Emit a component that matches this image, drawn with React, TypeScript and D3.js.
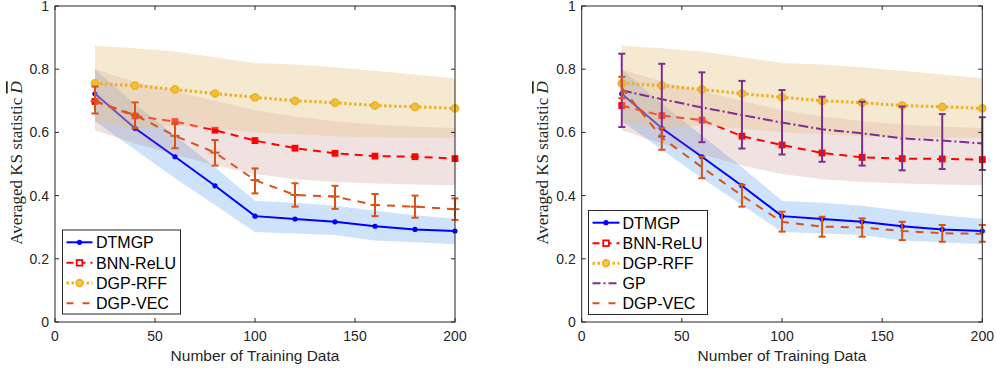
import React from "react";
import * as d3 from "d3";

const xs = [20, 40, 60, 80, 100, 120, 140, 160, 180, 200];
const xTicks = [0, 50, 100, 150, 200];
const yTicks = [0, 0.2, 0.4, 0.6, 0.8, 1];
const xLabel = "Number of Training Data";
const yLabelText = "Averaged KS statistic ";

// shared
const dtmgp = [0.722, 0.613, 0.523, 0.431, 0.335, 0.326, 0.317, 0.303, 0.293, 0.288];
const dtmgpUpper = [0.80, 0.69, 0.59, 0.49, 0.384, 0.377, 0.368, 0.352, 0.338, 0.327];
const dtmgpLower = [0.635, 0.545, 0.455, 0.37, 0.285, 0.28, 0.275, 0.258, 0.252, 0.246];
const bnnUpper = [0.80, 0.76, 0.73, 0.70, 0.67, 0.65, 0.635, 0.625, 0.618, 0.614];
const bnnLower = [0.607, 0.565, 0.53, 0.495, 0.468, 0.452, 0.443, 0.438, 0.435, 0.433];
const rff = [0.755, 0.748, 0.736, 0.723, 0.711, 0.700, 0.694, 0.685, 0.681, 0.676];
const rffUpper = [0.874, 0.866, 0.856, 0.838, 0.82, 0.815, 0.806, 0.795, 0.783, 0.771];
const rffLower = [0.633, 0.612, 0.622, 0.612, 0.60, 0.594, 0.588, 0.585, 0.584, 0.583];

// left panel
const bnnLeft = [0.698, 0.652, 0.634, 0.607, 0.574, 0.550, 0.534, 0.525, 0.523, 0.517];
const vecLeft = [0.699, 0.655, 0.589, 0.536, 0.449, 0.402, 0.397, 0.370, 0.365, 0.357];
const vecLeftUpper = [0.745, 0.695, 0.629, 0.576, 0.486, 0.439, 0.431, 0.405, 0.400, 0.391];
const vecLeftLower = [0.660, 0.613, 0.550, 0.495, 0.407, 0.365, 0.358, 0.335, 0.330, 0.323];

// right panel
const bnnRight = [0.685, 0.653, 0.639, 0.588, 0.560, 0.535, 0.521, 0.517, 0.516, 0.514];
const gp = [0.733, 0.705, 0.679, 0.655, 0.631, 0.610, 0.597, 0.581, 0.574, 0.565];
const gpUpper = [0.849, 0.817, 0.790, 0.763, 0.734, 0.713, 0.697, 0.682, 0.658, 0.648];
const gpLower = [0.617, 0.587, 0.569, 0.549, 0.530, 0.507, 0.495, 0.480, 0.484, 0.481];
const vecRight = [0.742, 0.583, 0.490, 0.400, 0.317, 0.302, 0.299, 0.288, 0.281, 0.279];
const vecRightUpper = [0.776, 0.613, 0.523, 0.434, 0.349, 0.333, 0.328, 0.317, 0.307, 0.307];
const vecRightLower = [0.708, 0.545, 0.455, 0.365, 0.286, 0.270, 0.270, 0.259, 0.254, 0.254];

const C_BLUE = "#0000ff";
const C_RED = "#ff0000";
const C_YEL = "#EDB120";
const C_ORG = "#D95319";
const C_PUR = "#7E2F8E";

const SANS = "'Liberation Sans', Arial, sans-serif";
const SERIF = "'Liberation Serif', 'Times New Roman', serif";

type PanelProps = {
  left: number;
  right: number;
  labelX: number;
  bnn: number[];
  vec: number[];
  vecUp: number[];
  vecLo: number[];
  vecPlus: boolean;
  showGP: boolean;
  legend: { x0: number; x1: number; y0: number; y1: number; rows: number[]; lineX0: number; lineX1: number; textX: number; items: string[] };
};

function Panel(p: PanelProps) {
  const top = 6;
  const bottom = 322;
  const x = d3.scaleLinear().domain([0, 200]).range([p.left, p.right]);
  const y = d3.scaleLinear().domain([0, 1]).range([bottom, top]);
  const line = (vals: number[]) =>
    d3.line<number>().x((_, i) => x(xs[i])).y((v) => y(v))(vals) as string;
  const band = (up: number[], lo: number[]) =>
    d3
      .area<number>()
      .x((_, i) => x(xs[i]))
      .y0((_, i) => y(lo[i]))
      .y1((_, i) => y(up[i]))(xs) as string;
  const tick = 4;
  const errBars = (mid: number[], up: number[], lo: number[], color: string, cap: number, plus: boolean) =>
    mid.map((v, i) => (
      <g key={i} stroke={color} strokeWidth={2} fill="none">
        <line x1={x(xs[i])} x2={x(xs[i])} y1={y(up[i])} y2={y(lo[i])} />
        <line x1={x(xs[i]) - cap} x2={x(xs[i]) + cap} y1={y(up[i])} y2={y(up[i])} />
        <line x1={x(xs[i]) - cap} x2={x(xs[i]) + cap} y1={y(lo[i])} y2={y(lo[i])} />
        {plus && <line x1={x(xs[i]) - 4.5} x2={x(xs[i]) + 4.5} y1={y(v)} y2={y(v)} />}
      </g>
    ));

  const L = p.legend;
  const sampleMid = (L.lineX0 + L.lineX1) / 2;
  const legendSample = (name: string, cy: number) => {
    switch (name) {
      case "DTMGP":
        return (
          <g>
            <line x1={L.lineX0} x2={L.lineX1} y1={cy} y2={cy} stroke={C_BLUE} strokeWidth={2} />
            <circle cx={sampleMid} cy={cy} r={2.6} fill={C_BLUE} />
          </g>
        );
      case "BNN-ReLU":
        return (
          <g>
            <line x1={L.lineX0} x2={L.lineX1} y1={cy} y2={cy} stroke={C_RED} strokeWidth={2} strokeDasharray="7,5" />
            <rect x={sampleMid - 2.8} y={cy - 2.8} width={5.6} height={5.6} fill="#fff" stroke={C_RED} strokeWidth={1.8} />
          </g>
        );
      case "DGP-RFF":
        return (
          <g>
            <line x1={L.lineX0} x2={L.lineX1} y1={cy} y2={cy} stroke={C_YEL} strokeWidth={3} strokeDasharray="2.5,2.5" />
            <circle cx={sampleMid} cy={cy} r={3.4} fill="#f2c64f" stroke={C_YEL} strokeWidth={1.6} />
          </g>
        );
      case "GP":
        return (
          <line x1={L.lineX0} x2={L.lineX1} y1={cy} y2={cy} stroke={C_PUR} strokeWidth={2} strokeDasharray="8,3,2,3" />
        );
      default:
        return (
          <line x1={L.lineX0} x2={L.lineX1} y1={cy} y2={cy} stroke={C_ORG} strokeWidth={2} strokeDasharray="7,9" />
        );
    }
  };

  return (
    <g>
      {/* bands and lines */}
      <path d={band(dtmgpUpper, dtmgpLower)} fill="#3c8ce8" fillOpacity={0.25} />
      <path d={line(dtmgp)} fill="none" stroke={C_BLUE} strokeWidth={2} />
      {dtmgp.map((v, i) => (
        <circle key={i} cx={x(xs[i])} cy={y(v)} r={2.6} fill={C_BLUE} />
      ))}
      <path d={band(bnnUpper, bnnLower)} fill="#b06060" fillOpacity={0.18} />
      <path d={line(p.bnn)} fill="none" stroke={C_RED} strokeWidth={2} strokeDasharray="8,6" />
      {p.bnn.map((v, i) => (
        <rect key={i} x={x(xs[i]) - 2.8} y={y(v) - 2.8} width={5.6} height={5.6} fill={C_RED} stroke={C_RED} strokeWidth={1.2} />
      ))}
      <path d={band(rffUpper, rffLower)} fill="#e8c48a" fillOpacity={0.38} />
      <path d={line(rff)} fill="none" stroke={C_YEL} strokeWidth={3} strokeDasharray="2.5,2.5" />
      {rff.map((v, i) => (
        <circle key={i} cx={x(xs[i])} cy={y(v)} r={3.6} fill="#f0bf3e" stroke={C_YEL} strokeWidth={1.5} />
      ))}
      {p.showGP && (
        <g>
          <path d={line(gp)} fill="none" stroke={C_PUR} strokeWidth={2} strokeDasharray="10,3,2,3" />
          {errBars(gp, gpUpper, gpLower, C_PUR, 3.5, false)}
        </g>
      )}
      <path d={line(p.vec)} fill="none" stroke={C_ORG} strokeWidth={2} strokeDasharray="8,7" />
      {errBars(p.vec, p.vecUp, p.vecLo, C_ORG, 3.5, p.vecPlus)}

      {/* axes box */}
      <rect x={p.left} y={top} width={p.right - p.left} height={bottom - top} fill="none" stroke="#262626" strokeWidth={1} />
      {xTicks.map((t) => (
        <g key={t} stroke="#262626" strokeWidth={1}>
          <line x1={x(t)} x2={x(t)} y1={bottom} y2={bottom - tick} />
          <line x1={x(t)} x2={x(t)} y1={top} y2={top + tick} />
        </g>
      ))}
      {yTicks.map((t) => (
        <g key={t} stroke="#262626" strokeWidth={1}>
          <line x1={p.left} x2={p.left + tick} y1={y(t)} y2={y(t)} />
          <line x1={p.right} x2={p.right - tick} y1={y(t)} y2={y(t)} />
        </g>
      ))}
      {xTicks.map((t) => (
        <text key={t} x={x(t)} y={bottom + 19} textAnchor="middle" fontFamily={SANS} fontSize={14} fill="#262626">
          {t}
        </text>
      ))}
      {yTicks.map((t) => (
        <text key={t} x={p.left - 6} y={y(t) + 5} textAnchor="end" fontFamily={SANS} fontSize={14} fill="#262626">
          {d3.format("~g")(t)}
        </text>
      ))}
      <text x={(p.left + p.right) / 2} y={361} textAnchor="middle" fontFamily={SANS} fontSize={15.5} fill="#262626">
        {xLabel}
      </text>
      <text
        transform={`translate(${p.labelX},163) rotate(-90)`}
        textAnchor="middle"
        fontFamily={SERIF}
        fontSize={17}
        fill="#262626"
      >
        {yLabelText}
        <tspan fontStyle="italic" style={{ textDecoration: "overline" }}>D</tspan>
      </text>

      {/* legend */}
      <rect x={L.x0} y={L.y0} width={L.x1 - L.x0} height={L.y1 - L.y0} fill="#fff" stroke="#262626" strokeWidth={1} />
      {L.items.map((name, i) => (
        <g key={name}>
          {legendSample(name, L.rows[i])}
          <text x={L.textX} y={L.rows[i] + 5.8} fontFamily={SANS} fontSize={16} fill="#000">
            {name}
          </text>
        </g>
      ))}
    </g>
  );
}

export default function App() {
  return (
    <svg width={997} height={370} style={{ position: "absolute", left: 0, top: 0, background: "#fff" }}>
      <rect width={997} height={370} fill="#fff" />
      <Panel
        left={55}
        right={455}
        labelX={22}
        bnn={bnnLeft}
        vec={vecLeft}
        vecUp={vecLeftUpper}
        vecLo={vecLeftLower}
        vecPlus={true}
        showGP={false}
        legend={{
          x0: 62.5,
          x1: 180.5,
          y0: 230,
          y1: 314,
          rows: [242.3, 262.8, 283, 303.3],
          lineX0: 66.5,
          lineX1: 92.5,
          textX: 96,
          items: ["DTMGP", "BNN-ReLU", "DGP-RFF", "DGP-VEC"],
        }}
      />
      <Panel
        left={581.7}
        right={982.3}
        labelX={548}
        bnn={bnnRight}
        vec={vecRight}
        vecUp={vecRightUpper}
        vecLo={vecRightLower}
        vecPlus={false}
        showGP={true}
        legend={{
          x0: 588.5,
          x1: 707.5,
          y0: 210.5,
          y1: 314.5,
          rows: [222.7, 243.2, 263.3, 283.3, 303.3],
          lineX0: 592.5,
          lineX1: 619.5,
          textX: 622.5,
          items: ["DTMGP", "BNN-ReLU", "DGP-RFF", "GP", "DGP-VEC"],
        }}
      />
    </svg>
  );
}
